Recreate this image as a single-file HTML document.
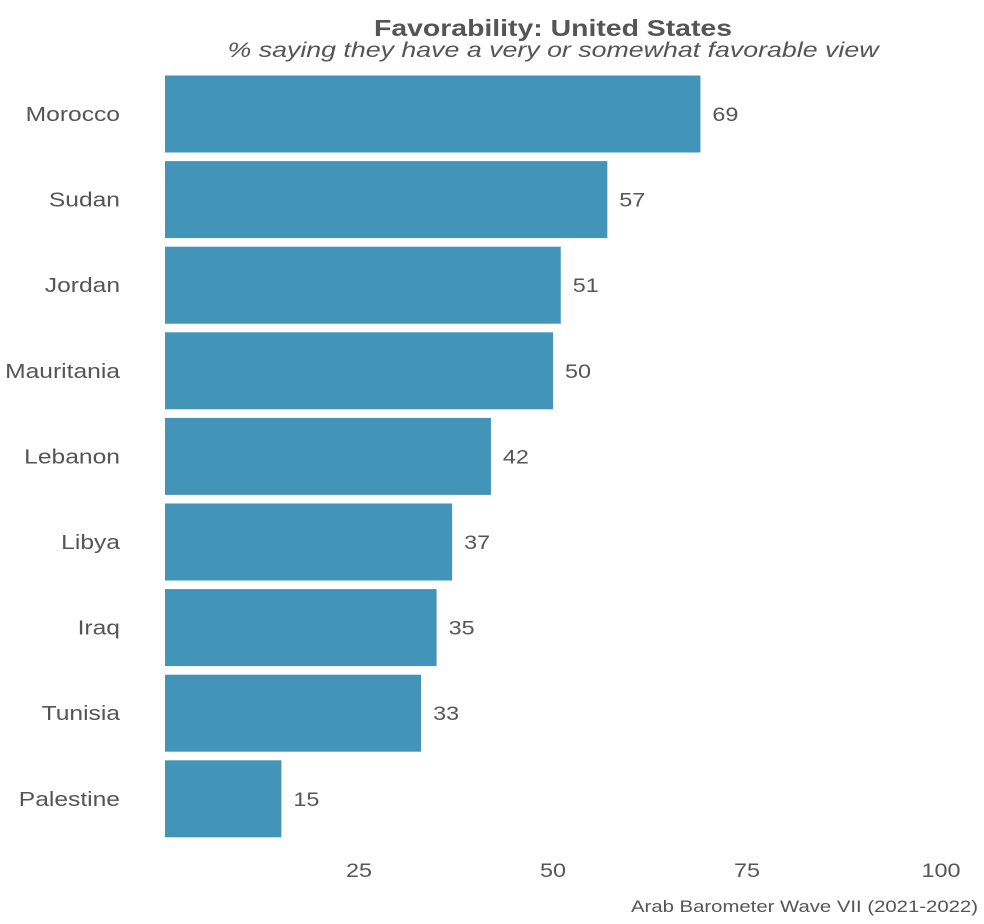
<!DOCTYPE html>
<html><head><meta charset="utf-8"><style>
body{margin:0;background:#fff;}
svg{display:block;font-family:"Liberation Sans",sans-serif;}
</style></head><body>
<svg id="chart" width="984" height="924">
<text x="553" y="36" text-anchor="middle" font-size="23" font-weight="bold" fill="#555" textLength="358" lengthAdjust="spacingAndGlyphs">Favorability: United States</text>
<text x="553" y="57" text-anchor="middle" font-size="21" font-style="italic" fill="#555" textLength="651" lengthAdjust="spacingAndGlyphs">% saying they have a very or somewhat favorable view</text>
<g id="bars"></g>
<g id="xticks"></g>
<text x="978" y="912" text-anchor="end" font-size="17" fill="#555" textLength="347" lengthAdjust="spacingAndGlyphs">Arab Barometer Wave VII (2021-2022)</text>
</svg>
<script>
const categories = ["Morocco","Sudan","Jordan","Mauritania","Lebanon","Libya","Iraq","Tunisia","Palestine"];
const values = [69,57,51,50,42,37,35,33,15];
const xTicks = [25,50,75,100];
const ns = "http://www.w3.org/2000/svg";
const x = v => 165 + v * 7.76;
const yCenter = i => 114 + i * 85.6;
const bh = 77;
const bars = document.getElementById("bars");
function mk(tag, attrs, parent){const e=document.createElementNS(ns,tag);for(const k in attrs)e.setAttribute(k,attrs[k]);parent.appendChild(e);return e;}
function widen(e){const w=e.getComputedTextLength();e.setAttribute("textLength",(w*1.23).toFixed(1));e.setAttribute("lengthAdjust","spacingAndGlyphs");}
categories.forEach((c,i)=>{
  const r = mk("rect",{x:x(0),y:yCenter(i)-bh/2,width:x(values[i])-x(0),height:bh,fill:"#4394b9"},bars);
  
  
  const l = mk("text",{x:120,y:yCenter(i)+7,"text-anchor":"end","font-size":20,fill:"#555"},bars);
  l.textContent = c;
  
  
  widen(l);
  const v = mk("text",{x:x(values[i])+12,y:yCenter(i)+7,"font-size":19,fill:"#555"},bars);
  v.textContent = values[i];
  
  
  widen(v);
});
const xt = document.getElementById("xticks");
xTicks.forEach(t=>{
  const e = mk("text",{x:x(t),y:877,"text-anchor":"middle","font-size":19,fill:"#555"},xt);
  e.textContent = t;
  
  
  widen(e);
});
</script>
</body></html>
